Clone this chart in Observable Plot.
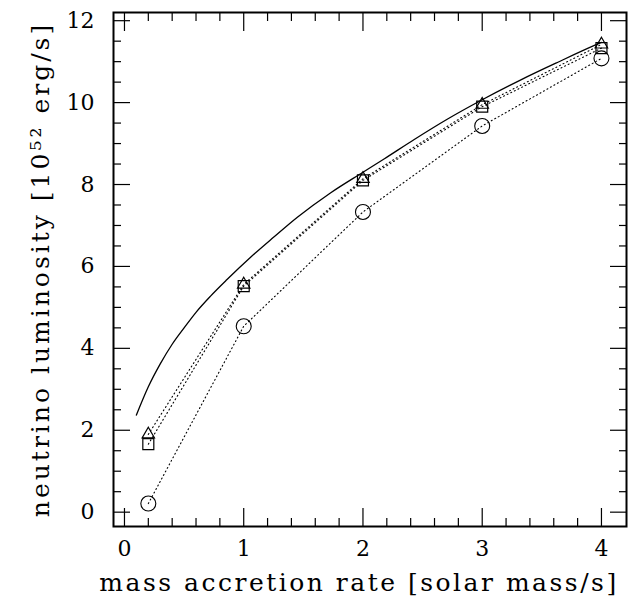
<!DOCTYPE html>
<html>
<head>
<meta charset="utf-8">
<script src="https://cdn.jsdelivr.net/npm/d3@7"></script>
<script src="https://cdn.jsdelivr.net/npm/@observablehq/plot@0.6"></script>
<style>
  body { margin: 0; background: #fff; }
  svg { display: block; }
</style>
</head>
<body>
<div id="chart"></div>
<script>
// Model points (mass accretion rate, solar mass/s)
const rate = [0.2, 1, 2, 3, 4];
const lumTriangle = [1.90, 5.56, 8.14, 9.95, 11.42];
const lumSquare   = [1.66, 5.52, 8.10, 9.90, 11.33];
const lumCircle   = [0.21, 4.54, 7.33, 9.43, 11.08];

// Solid curve
const curveRate = [0.1, 0.2, 0.3, 0.4, 0.5, 0.6, 0.72, 0.86, 1.06, 1.25, 1.45, 1.73, 2.0, 2.18, 2.43, 2.71, 3.0, 3.32, 3.63, 3.96, 4.0];
const curveLum  = [2.37, 3.06, 3.62, 4.10, 4.50, 4.88, 5.27, 5.68, 6.23, 6.71, 7.20, 7.80, 8.30, 8.63, 9.10, 9.60, 10.07, 10.55, 10.98, 11.42, 11.47];

// Ticks
const xMajor = [0, 1, 2, 3, 4];
const xMinor = [0.2, 0.4, 0.6, 0.8, 1.2, 1.4, 1.6, 1.8, 2.2, 2.4, 2.6, 2.8, 3.2, 3.4, 3.6, 3.8];
const yMajor = [0, 2, 4, 6, 8, 10, 12];
const yMinor = [0.5, 1, 1.5, 2.5, 3, 3.5, 4.5, 5, 5.5, 6.5, 7, 7.5, 8.5, 9, 9.5, 10.5, 11, 11.5];

const xTitle = "mass accretion rate [solar mass/s]";
const yTitle = "neutrino luminosity [10\u2075\u00B2 erg/s]";

const tri = rate.map((r, i) => ({r, L: lumTriangle[i]}));
const sq = rate.map((r, i) => ({r, L: lumSquare[i]}));
const ci = rate.map((r, i) => ({r, L: lumCircle[i]}));
const curve = curveRate.map((r, i) => ({r, L: curveLum[i]}));

const font = "DejaVu Serif";
const dotted = "1,3";

const chart = Plot.plot({
  width: 640,
  height: 605,
  marginLeft: 113,
  marginRight: 14,
  marginTop: 12,
  marginBottom: 79,
  style: {fontFamily: font, background: "#fff", color: "#000"},
  x: {domain: [-0.092, 4.21], label: null},
  y: {domain: [-0.35, 12.2], label: null},
  marks: [
    // ticks (inward) on all four sides
    Plot.axisX(xMajor, {anchor: "bottom", tickSize: -18, fill: "none", strokeWidth: 1.2, label: null}),
    Plot.axisX(xMinor, {anchor: "bottom", tickSize: -8, fill: "none", strokeWidth: 1.2, label: null}),
    Plot.axisX(xMajor, {anchor: "top", tickSize: -18, fill: "none", strokeWidth: 1.2, label: null}),
    Plot.axisX(xMinor, {anchor: "top", tickSize: -8, fill: "none", strokeWidth: 1.2, label: null}),
    Plot.axisY(yMajor, {anchor: "left", tickSize: -17, fill: "none", strokeWidth: 1.2, label: null}),
    Plot.axisY(yMinor, {anchor: "left", tickSize: -8, fill: "none", strokeWidth: 1.2, label: null}),
    Plot.axisY(yMajor, {anchor: "right", tickSize: -17, fill: "none", strokeWidth: 1.2, label: null}),
    Plot.axisY(yMinor, {anchor: "right", tickSize: -8, fill: "none", strokeWidth: 1.2, label: null}),
    // tick labels
    Plot.axisX(xMajor, {anchor: "bottom", tickSize: 0, tickPadding: 14, fontSize: 22, label: null, tickFormat: d => String(d)}),
    Plot.axisY(yMajor, {anchor: "left", tickSize: 0, tickPadding: 19, fontSize: 22, label: null, tickFormat: d => String(d)}),
    Plot.frame({stroke: "#000", strokeWidth: 2}),
    // data
    Plot.line(curve, {x: "r", y: "L", stroke: "#000", strokeWidth: 1.3, curve: "monotone-x"}),
    Plot.line(tri, {x: "r", y: "L", stroke: "#000", strokeWidth: 1.1, strokeDasharray: dotted}),
    Plot.line(sq, {x: "r", y: "L", stroke: "#000", strokeWidth: 1.1, strokeDasharray: dotted}),
    Plot.line(ci, {x: "r", y: "L", stroke: "#000", strokeWidth: 1.1, strokeDasharray: dotted}),
    Plot.dot(sq, {x: "r", y: "L", symbol: "square", r: 6.2, stroke: "#000", fill: "none", strokeWidth: 1.2}),
    Plot.dot(tri, {x: "r", y: "L", symbol: "triangle", r: 4.6, stroke: "#000", fill: "none", strokeWidth: 1.2}),
    Plot.dot(ci, {x: "r", y: "L", symbol: "circle", r: 7.5, stroke: "#000", fill: "none", strokeWidth: 1.1}),
    // axis titles
    Plot.text([xTitle], {frameAnchor: "bottom", lineAnchor: "middle", textAnchor: "middle", dy: 56, dx: -11, fontSize: 25, fill: "#000"}),
    Plot.text([yTitle], {frameAnchor: "left", lineAnchor: "middle", textAnchor: "middle", dx: -73, rotate: -90, fontSize: 25, fill: "#000"})
  ]
});
d3.select(chart).selectAll("text")
  .filter(function() { return this.textContent === xTitle; })
  .attr("letter-spacing", "2.5px");
d3.select(chart).selectAll("text")
  .filter(function() { return this.textContent === yTitle; })
  .attr("letter-spacing", "3px");
document.getElementById("chart").appendChild(chart);
</script>
</body>
</html>
